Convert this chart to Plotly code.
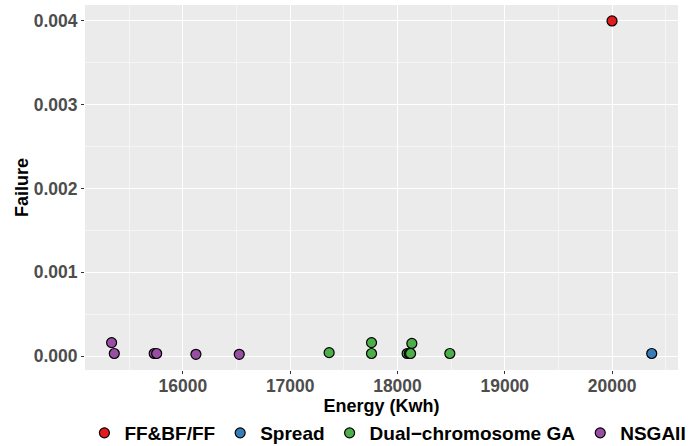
import plotly.graph_objects as go

# Data
ff_x = [20000]
ff_y = [0.00400]
spread_x = [20370]
spread_y = [0.00003]
dual_x = [17363, 17758, 17758, 18090, 18110, 18122, 18134, 18488]
dual_y = [0.00004, 0.00016, 0.00003, 0.00003, 0.00003, 0.00003, 0.00015, 0.00003]
nsga_x = [15335, 15360, 15732, 15755, 16121, 16525]
nsga_y = [0.00016, 0.00003, 0.00003, 0.00003, 0.00002, 0.00002]

series = [
    ("FF&BF/FF", ff_x, ff_y, "#E41A1C"),
    ("Spread", spread_x, spread_y, "#377EB8"),
    ("Dual\u2212chromosome GA", dual_x, dual_y, "#4DAF4A"),
    ("NSGAII", nsga_x, nsga_y, "#984EA3"),
]

x_ticks = [16000, 17000, 18000, 19000, 20000]
y_ticks = [0.000, 0.001, 0.002, 0.003, 0.004]

fig = go.Figure()
for name, xs, ys, col in series:
    fig.add_trace(go.Scatter(
        x=xs, y=ys, mode="markers", name=name,
        marker=dict(color=col, size=10, line=dict(color="black", width=1.2)),
    ))

fontfam = "Liberation Sans, Arial, sans-serif"
fig.update_layout(
    width=697, height=446,
    margin=dict(l=85, r=19, t=5, b=76, autoexpand=False),
    paper_bgcolor="white",
    plot_bgcolor="#EBEBEB",
    font=dict(family=fontfam, color="black"),
    showlegend=True,
    legend=dict(
        orientation="h", x=-0.001, xanchor="left", y=-0.1726, yanchor="middle",
        font=dict(size=19, family=fontfam, color="black", weight="bold"),
        itemwidth=30, bgcolor="rgba(0,0,0,0)", tracegroupgap=0,
    ),
    xaxis=dict(
        range=[15087, 20615], tickvals=x_ticks, ticktext=[str(v) for v in x_ticks],
        showgrid=True, gridcolor="white", gridwidth=1.2,
        minor=dict(dtick=500, tick0=0, showgrid=True, gridcolor="#F5F5F5", gridwidth=0.6),
        zeroline=False, ticks="outside", ticklen=3, tickcolor="#333333",
        ticklabelstandoff=-3,
        tickfont=dict(size=17.5, color="#4D4D4D", family=fontfam, weight="bold"),
        title=dict(text="<b>Energy (Kwh)</b>", font=dict(size=18, color="black"), standoff=0),
    ),
    yaxis=dict(
        range=[-0.000167, 0.00419], tickvals=y_ticks, ticktext=["%.3f" % v for v in y_ticks],
        showgrid=True, gridcolor="white", gridwidth=1.2,
        minor=dict(dtick=0.0005, tick0=0, showgrid=True, gridcolor="#F5F5F5", gridwidth=0.6),
        zeroline=False, ticks="outside", ticklen=3, tickcolor="#333333",
        tickfont=dict(size=17.5, color="#4D4D4D", family=fontfam, weight="bold"),
        title=dict(text="<b>Failure</b>", font=dict(size=18, color="black"), standoff=0),
    ),
)

fig.write_html("out.html")
